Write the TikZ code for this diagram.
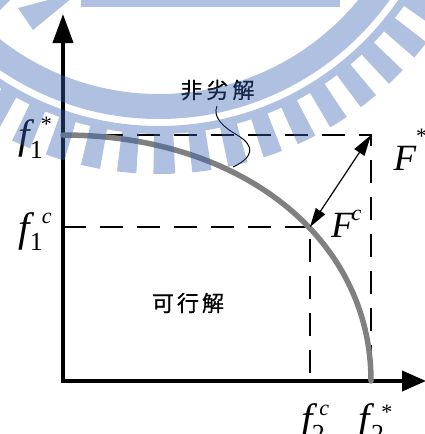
\documentclass[tikz,border=0pt]{standalone}
\usepackage{fontspec}
\setmainfont{Liberation Serif}
\newfontfamily\cjk[FakeBold=0.6]{Noto Sans CJK TC}
\usetikzlibrary{arrows.meta,calc}
\definecolor{wmblue}{RGB}{55,98,178}
\definecolor{curvegray}{RGB}{128,128,128}
\newcommand{\fbig}{\fontsize{41}{41}\selectfont}
\newcommand{\Fbig}{\fontsize{37}{37}\selectfont}
\newcommand{\fsub}{\fontsize{26}{26}\selectfont}
\newcommand{\fsup}{\fontsize{22}{22}\selectfont}
\begin{document}
\begin{tikzpicture}[x=1pt,y=-1pt,
  axis/.style={line width=4pt, line join=miter},
  guide/.style={line width=1.3pt, dash pattern=on 23pt off 14pt},
  lbl/.style={anchor=base west, inner sep=0pt, outer sep=0pt},
  cjklbl/.style={font=\cjk\fontsize{22}{22}\selectfont, inner sep=0pt},
  wm/.style={fill=wmblue, fill opacity=0.4}]
\useasboundingbox (0,0) rectangle (425,434);
\fill[white] (0,0) rectangle (425,434);
% coordinates
\coordinate (O) at (63,381);
\coordinate (Ytip) at (63,14);
\coordinate (Xtip) at (426,381);
\coordinate (A) at (63,135);
\coordinate (Fs) at (371,135);
\coordinate (Fsb) at (371,381);
\coordinate (B) at (63,227);
\coordinate (Fc) at (310,227);
\coordinate (Fcb) at (310,381);
% guides
\draw[guide] (A) -- (Fs) -- (Fsb);
\draw[guide] (B) -- (Fc) -- (Fcb);
% axes
\draw[axis, {Triangle[length=29pt,width=20pt]}-{Triangle[length=24pt,width=20pt]}] (Ytip) -- (O) -- (Xtip);
% Pareto front
\draw[curvegray, line width=5.5pt, line cap=round] (A) .. controls (241.6,135) and (371,238.3) .. (Fsb);
% distance arrow
\draw[line width=1.2pt, {Triangle[length=19pt,width=11pt]}-{Triangle[length=21pt,width=12pt]}] (Fc) -- (Fs);
% labels
\node[lbl] (f1s) at (18,148.5) {{\fbig\itshape f}\kern0.6pt\raisebox{-9.5pt}{\fsub 1}\kern-2pt\raisebox{17pt}{\fsup *}};
\node[lbl] (f1c) at (18,241.5) {{\fbig\itshape f}\kern0.6pt\raisebox{-8.5pt}{\fsub 1}\kern-1pt\raisebox{18.5pt}{\fsup\itshape c}};
\node[lbl] (Fstar) at (393.5,170) {{\Fbig\itshape F}\raisebox{27pt}{\fsup *}};
\node[lbl] (Fcl) at (331,237) {{\Fbig\itshape F}\kern-2pt\raisebox{17pt}{\fsup\itshape c}};
\node[lbl] (f2c) at (301,432.8) {{\fbig\itshape f}\kern-0.4pt\raisebox{-9.8pt}{\fsub 2}\kern-5.6pt\raisebox{17.8pt}{\fsup\itshape c}};
\node[lbl] (f2s) at (358,432.8) {{\fbig\itshape f}\kern1.8pt\raisebox{-9.8pt}{\fsub 2}\kern-2.7pt\raisebox{13.8pt}{\fsup *}};
\node[cjklbl] (nonInf) at (217.5,90) {非\kern4pt劣\kern4pt解};
\node[cjklbl] (feas) at (188,303) {可\kern3pt行\kern3pt解};
% leader
\coordinate (ls) at (217,106);
\coordinate (le) at (233,167);
\draw[line width=1pt] (ls) .. controls (212,118) and (225,128) .. (237,135) .. controls (257,146.7) and (252,158) .. (le);
% watermark
\coordinate (C) at (159,-164);
\fill[wm, even odd rule] (C) circle[radius=283] (C) circle[radius=258];
\fill[wm, even odd rule] (C) circle[radius=290]
  ($(C)+(87.65:338)$)
  \foreach \k [evaluate=\k as \ta using 87.65+6.2*\k, evaluate=\k as \tb using 87.65+6.2*\k+3.3, evaluate=\k as \tc using 87.65+6.2*\k+6.2] in {0,...,57} {
    arc[start angle=\ta, end angle=\tb, radius=338] -- ($(C)+(\tb:298)$)
    arc[start angle=\tb, end angle=\tc, radius=298] -- ($(C)+(\tc:338)$) } -- cycle;
\fill[wm] (81,-2) rectangle (340,7);
\fill[wm] (18,8) -- (33,30) -- (72,-2) -- (56,-2) -- cycle;
\fill[wm] (-2,-2) -- (12,-2) -- (-2,12) -- cycle;
\end{tikzpicture}
\end{document}
